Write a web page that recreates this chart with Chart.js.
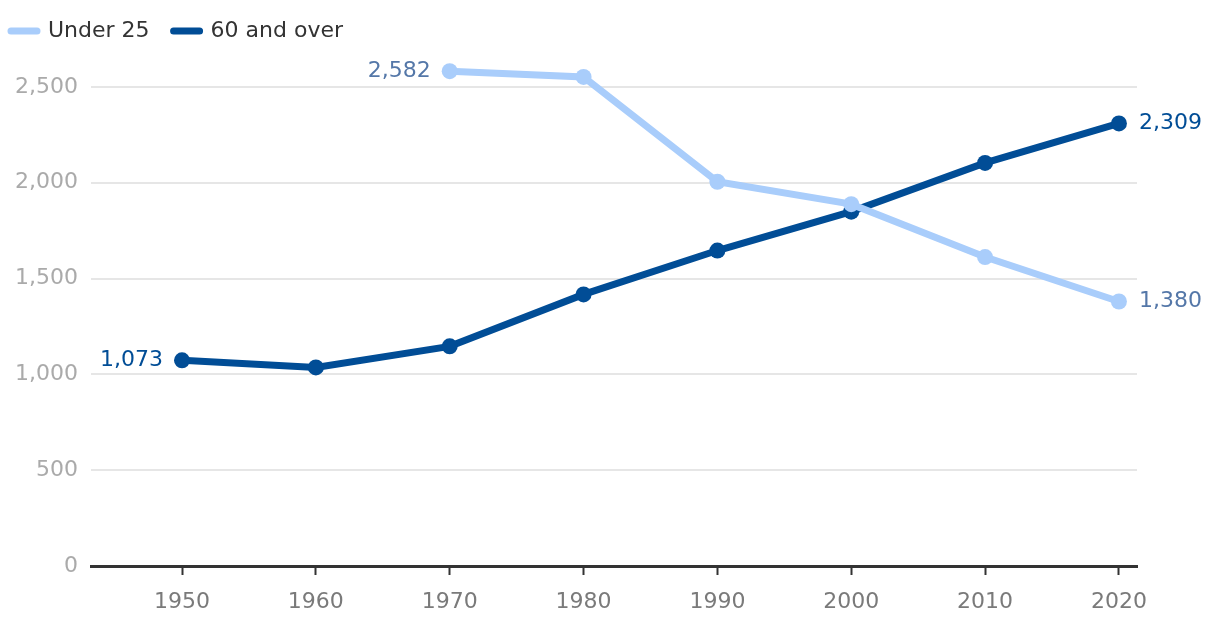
<!DOCTYPE html>
<html>
<head>
<meta charset="utf-8">
<script src="https://cdn.jsdelivr.net/npm/chart.js@4/dist/chart.umd.min.js"></script>
<style>
  html, body { margin: 0; padding: 0; background: #fff; }
  #wrap { width: 1220px; height: 626px; }
</style>
</head>
<body>
<div id="wrap"><canvas id="mycanvas" width="1220" height="626"></canvas></div>
<script>
// years on the x axis
var years = [1950, 1960, 1970, 1980, 1990, 2000, 2010, 2020];
// population (thousands) by age group
var under25 = [null, null, 2582, 2552, 2005, 1888, 1612, 1380];
var over60 = [1073, 1036, 1146, 1417, 1646, 1849, 2103, 2309];
var yTicks = [0, 500, 1000, 1500, 2000, 2500];

var lightBlue = '#a9cdfb';
var darkBlue = '#014d96';
var FONT = '"DejaVu Sans", Verdana, sans-serif';

function toPoints(vals) {
	var out = [];
	for (var i in years) {
		out.push({x: years[i], y: vals[i]});
	}
	return out;
}

function fmt(v) {
	return v.toLocaleString('en-US');
}

// value labels on first and last point of each line
var endLabels = {
	id: 'endLabels',
	beforeDraw: function(chart) {
		// pull legend to the top left corner
		if (chart.legend && !chart.legend._shifted) {
			chart.legend.left -= 13;
			chart.legend.top -= 4;
			chart.legend._shifted = true;
		}
	},
	afterDatasetsDraw: function(chart) {
		var ctx = chart.ctx;
		ctx.save();
		ctx.font = '22px ' + FONT;
		ctx.textBaseline = 'middle';
		chart.data.datasets.forEach(function(ds, di) {
			var meta = chart.getDatasetMeta(di);
			var first = -1, last = -1;
			ds.data.forEach(function(p, i) {
				if (p.y !== null) {
					if (first < 0) first = i;
					last = i;
				}
			});
			ctx.fillStyle = ds.labelColor;
			var a = meta.data[first], b = meta.data[last];
			ctx.textAlign = 'right';
			ctx.fillText(fmt(ds.data[first].y), a.x - 19, a.y);
			ctx.textAlign = 'left';
			ctx.fillText(fmt(ds.data[last].y), b.x + 20, b.y);
		});
		ctx.restore();
	}
};

var chartdata = {
	datasets: [
		{
			label: 'Under 25',
			data: toPoints(under25),
			borderColor: lightBlue,
			backgroundColor: lightBlue,
			borderWidth: 7,
			borderCapStyle: 'round',
			pointRadius: 8,
			pointHoverRadius: 8,
			pointBorderWidth: 0,
			labelColor: '#5477a8'
		},
		{
			label: '60 and over',
			data: toPoints(over60),
			borderColor: darkBlue,
			backgroundColor: darkBlue,
			borderWidth: 7,
			borderCapStyle: 'round',
			pointRadius: 8,
			pointHoverRadius: 8,
			pointBorderWidth: 0,
			labelColor: darkBlue
		}
	]
};

var ctx = document.getElementById('mycanvas');

var lineGraph = new Chart(ctx, {
	type: 'line',
	data: chartdata,
	plugins: [endLabels],
	options: {
		responsive: false,
		animation: false,
		layout: { padding: { left: 0, right: 83, top: 0, bottom: 0 } },
		plugins: {
			tooltip: { enabled: false },
			legend: {
				position: 'top',
				align: 'start',
				labels: {
					usePointStyle: true,
					pointStyle: 'line',
					pointStyleWidth: 26,
					boxHeight: 20,
					padding: 24,
					color: '#333',
					font: { family: FONT, size: 22 },
					generateLabels: function(chart) {
						return chart.data.datasets.map(function(ds, i) {
							return {
								text: ds.label,
								datasetIndex: i,
								pointStyle: 'line',
								fillStyle: ds.borderColor,
								strokeStyle: ds.borderColor,
								lineWidth: 7,
								lineCap: 'round',
								fontColor: '#333',
								hidden: false
							};
						});
					}
				}
			}
		},
		scales: {
			x: {
				type: 'linear',
				min: 1943.2,
				max: 2021.35,
				afterBuildTicks: function(scale) {
					scale.ticks = years.map(function(v) { return {value: v}; });
				},
				afterFit: function(scale) { scale.height = 60; },
				border: { display: true, color: '#333', width: 3 },
				grid: { drawOnChartArea: false, drawTicks: true, tickLength: 9, tickWidth: 2, tickColor: '#333' },
				ticks: {
					color: '#7a7a7a',
					padding: 14,
					maxRotation: 0,
					font: { family: FONT, size: 22 },
					callback: function(v) { return String(v); }
				}
			},
			y: {
				min: 0,
				max: 2661,
				afterBuildTicks: function(scale) {
					scale.ticks = yTicks.map(function(v) { return {value: v}; });
				},
				afterFit: function(scale) { scale.width = 91; },
				border: { display: false },
				grid: { color: '#e6e6e6', lineWidth: 2, drawTicks: false },
				ticks: {
					color: '#aaaaaa',
					padding: 13,
					font: { family: FONT, size: 22 },
					callback: function(v) { return fmt(v); }
				}
			}
		}
	}
});
</script>
</body>
</html>
